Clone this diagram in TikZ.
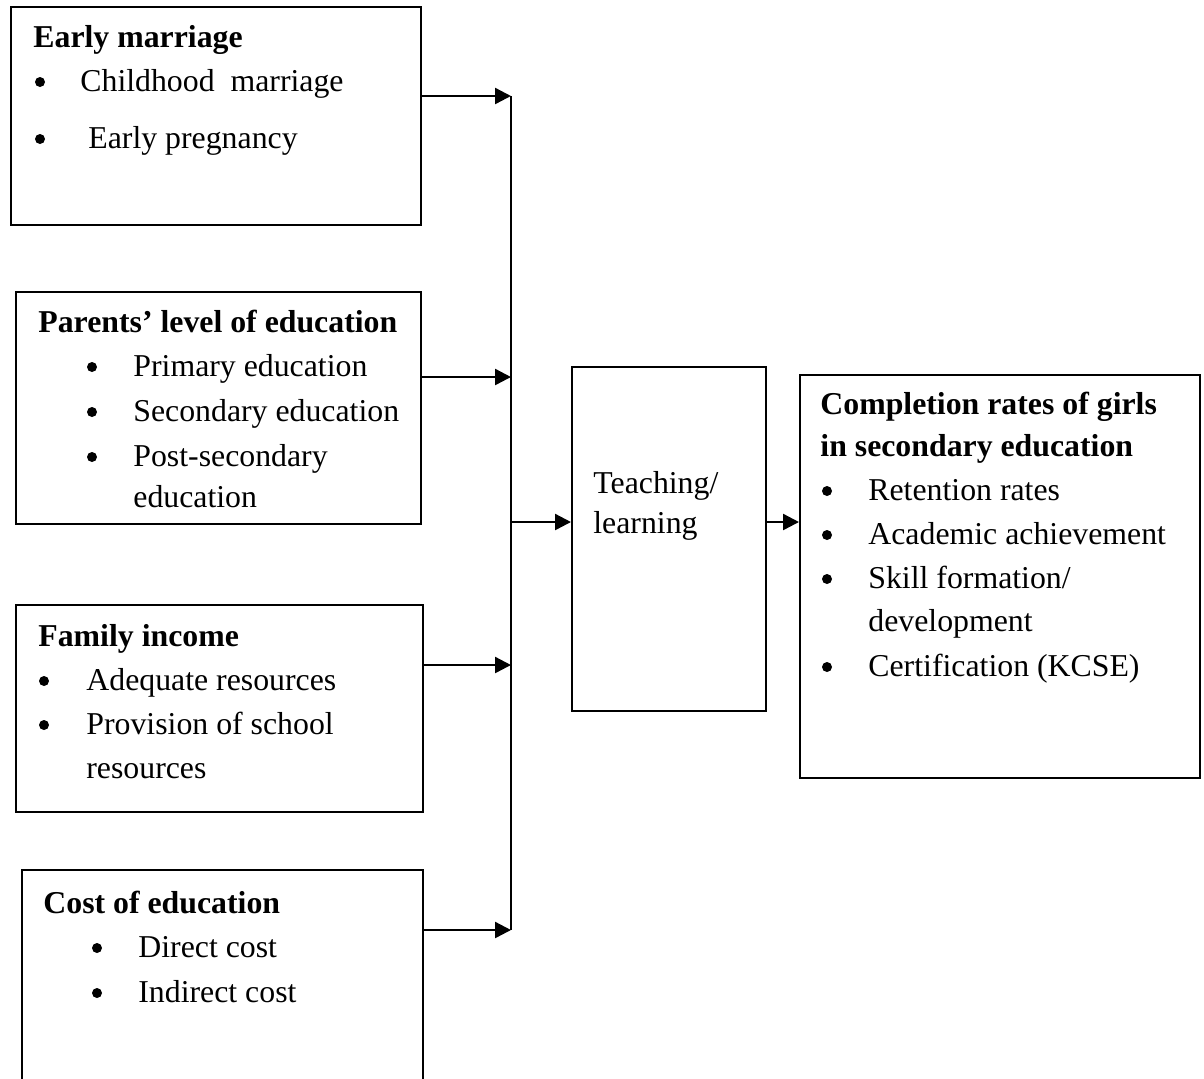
\documentclass[tikz,border=0pt]{standalone}
\usepackage{fontspec}
\setmainfont{Liberation Serif}
\usetikzlibrary{arrows.meta,fit}

\tikzset{
  frame/.style={draw,line width=1pt,inner sep=0pt},
  txt/.style={anchor=base west,inner sep=0pt,font=\fontsize{15.9}{22}\selectfont},
  head/.style={anchor=base west,inner sep=0pt,font=\fontsize{15.9}{22}\selectfont\bfseries},
  dot/.style={circle,fill,inner sep=0pt,minimum size=5pt},
  feed/.style={line width=1.2pt,-{Triangle[length=8pt,width=8pt]}}
}

\begin{document}
\begin{tikzpicture}[x=0.5pt,y=-0.5pt]
  \clip (0,0) rectangle (1204,1078);

  % boxes
  \node[frame,fit={(11,7) (421,225)}] (marriage) {};
  \node[frame,fit={(16,292) (421,524)}] (parents) {};
  \node[frame,fit={(16,605) (423,812)}] (income) {};
  \node[frame,fit={(22,870) (423,1095)}] (cost) {};
  \node[frame,fit={(572,367) (766,711)}] (teach) {};
  \node[frame,fit={(800,375) (1200,778)}] (completion) {};

  % early marriage
  \node[head] (marriageT) at (33,47) {Early marriage};
  \node[dot] (m1d) at (40,82) {};
  \node[txt] (m1) at (80,91) {Childhood\ \ marriage};
  \node[dot] (m2d) at (40,139) {};
  \node[txt] (m2) at (88,148) {Early pregnancy};

  % parents
  \node[head] (parentsT) at (38,332) {Parents’ level of education};
  \node[dot] (p1d) at (92,367) {};
  \node[txt] (p1) at (133,376) {Primary education};
  \node[dot] (p2d) at (92,412) {};
  \node[txt] (p2) at (133,421) {Secondary education};
  \node[dot] (p3d) at (92,457) {};
  \node[txt] (p3) at (133,466) {Post-secondary};
  \node[txt] (p3b) at (133,507) {education};

  % income
  \node[head] (incomeT) at (38,646) {Family income};
  \node[dot] (i1d) at (44,681) {};
  \node[txt] (i1) at (86,690) {Adequate resources};
  \node[dot] (i2d) at (44,725) {};
  \node[txt] (i2) at (86,734) {Provision of school};
  \node[txt] (i2b) at (86,778) {resources};

  % cost
  \node[head] (costT) at (43,913) {Cost of education};
  \node[dot] (c1d) at (97,948) {};
  \node[txt] (c1) at (138,957) {Direct cost};
  \node[dot] (c2d) at (97,993) {};
  \node[txt] (c2) at (138,1002) {Indirect cost};

  % teaching / learning
  \node[txt] (teachA) at (593,493) {Teaching/};
  \node[txt] (teachB) at (593,533) {learning};

  % completion
  \node[head] (complT) at (820,414) {Completion rates of girls};
  \node[head] (complT2) at (820,456) {in secondary education};
  \node[dot] (r1d) at (827,491) {};
  \node[txt] (r1) at (868,500) {Retention rates};
  \node[dot] (r2d) at (827,535) {};
  \node[txt] (r2) at (868,544) {Academic achievement};
  \node[dot] (r3d) at (827,579) {};
  \node[txt] (r3) at (868,588) {Skill formation/};
  \node[txt] (r3b) at (868,631) {development};
  \node[dot] (r4d) at (827,667) {};
  \node[txt] (r4) at (868,676) {Certification (KCSE)};

  % connectors
  \coordinate (b1) at (511,96);
  \coordinate (b2) at (511,377);
  \coordinate (b3) at (511,665);
  \coordinate (b4) at (511,930);
  \coordinate (bt) at (511,522);
  \draw[line width=1pt] (b1) -- (b4);
  \draw[feed] (marriage.east |- b1) -- (b1);
  \draw[feed] (parents.east |- b2) -- (b2);
  \draw[feed] (income.east |- b3) -- (b3);
  \draw[feed] (cost.east |- b4) -- (b4);
  \draw[feed] (bt) -- (teach.west |- bt);
  \draw[feed] (teach.east |- bt) -- (completion.west |- bt);
\end{tikzpicture}
\end{document}
